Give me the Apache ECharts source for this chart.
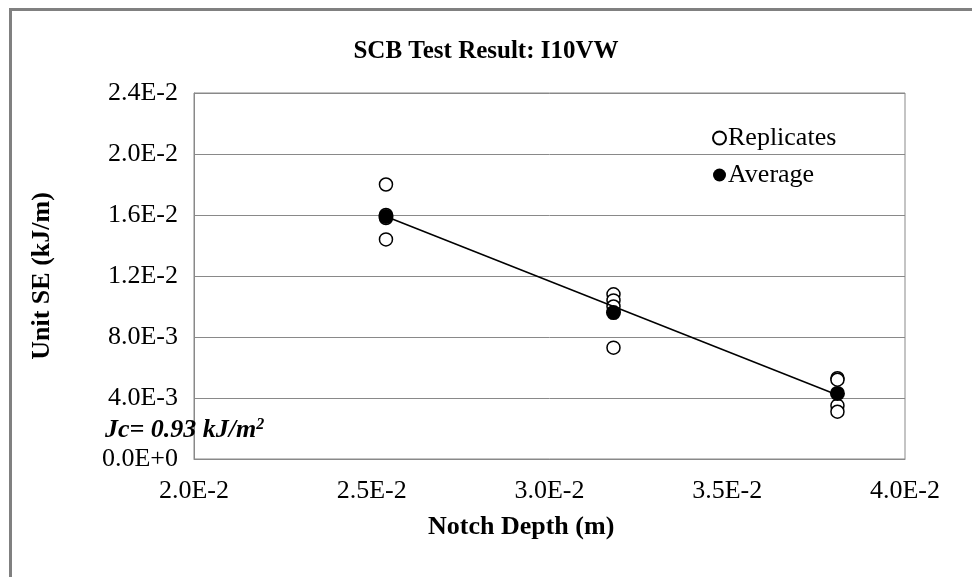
<!DOCTYPE html>
<html>
<head>
<meta charset="utf-8">
<script src="https://cdn.jsdelivr.net/npm/echarts@6/dist/echarts.min.js"></script>
<style>
html,body{margin:0;padding:0;background:#fff;}
#chart{width:972px;height:577px;}
</style>
</head>
<body>
<div id="chart"></div>
<script>
// Data
const notchDepths = [0.0254, 0.0318, 0.0381];
const replicates0254 = [0.0180, 0.0160, 0.0158, 0.0144];
const replicates0318 = [0.0108, 0.0104, 0.0100, 0.0073];
const replicates0381 = [0.0053, 0.0052, 0.0035, 0.0031];
const averages = [0.0159, 0.0096, 0.0043];
const trendX = [0.0254, 0.0381];
const trendY = [0.0159, 0.0042];
const yTicks = [0, 0.004, 0.008, 0.012, 0.016, 0.020, 0.024];
const xTicks = [0.020, 0.025, 0.030, 0.035, 0.040];

const FONT = 'Liberation Serif';
const GRIDC = '#898989';

const repData = [];
[replicates0254, replicates0318, replicates0381].forEach((arr, i) => {
  arr.forEach(v => repData.push([notchDepths[i], v]));
});
const avgData = notchDepths.map((x, i) => [x, averages[i]]);
const trendData = trendX.map((x, i) => [x, trendY[i]]);

function sci(v) {
  const n = Number(Number(v).toFixed(5));
  return n.toExponential(1).replace('e', 'E');
}

const chart = echarts.init(document.getElementById('chart'));
chart.setOption({
  animation: false,
  backgroundColor: '#fff',
  title: {
    text: 'SCB Test Result: I10VW',
    left: 'center',
    top: 34,
    textStyle: { fontFamily: FONT, fontWeight: 'bold', fontSize: 25, color: '#000' }
  },
  legend: {
    orient: 'vertical',
    left: 707,
    top: 120,
    itemWidth: 13,
    itemHeight: 13,
    itemGap: 11,
    data: ['Replicates', 'Average'],
    textStyle: { fontFamily: FONT, fontSize: 26, color: '#000', padding: [0, 0, 0, -3] }
  },
  grid: {
    left: 194, right: 67, top: 93, bottom: 118,
    show: true, borderColor: GRIDC, borderWidth: 1, backgroundColor: 'transparent'
  },
  xAxis: {
    type: 'value',
    min: xTicks[0], max: xTicks[xTicks.length - 1], interval: 0.005,
    axisLine: { show: true, lineStyle: { color: GRIDC } },
    axisTick: { show: false },
    splitLine: { show: false },
    axisLabel: { fontFamily: FONT, fontSize: 26, color: '#000', margin: 19, formatter: sci }
  },
  yAxis: {
    type: 'value',
    min: yTicks[0], max: yTicks[yTicks.length - 1], interval: 0.004,
    name: 'Unit SE (kJ/m)',
    nameLocation: 'middle',
    nameGap: 139,
    nameTextStyle: { fontFamily: FONT, fontWeight: 'bold', fontSize: 26, color: '#000' },
    axisLine: { show: true, lineStyle: { color: GRIDC } },
    axisTick: { show: false },
    splitLine: { show: true, lineStyle: { color: GRIDC, width: 1 } },
    axisLabel: { fontFamily: FONT, fontSize: 26, color: '#000', margin: 16, formatter: sci }
  },
  series: [
    {
      name: 'Replicates', type: 'scatter', data: repData,
      symbol: 'circle', symbolSize: 13, z: 2,
      itemStyle: { color: '#fff', borderColor: '#000', borderWidth: 1.5, opacity: 1 }
    },
    {
      name: 'Trend', type: 'line', data: trendData, showSymbol: false, symbol: 'none', z: 3,
      lineStyle: { color: '#000', width: 1.5 }, silent: true
    },
    {
      name: 'Average', type: 'scatter', data: avgData,
      symbol: 'circle', symbolSize: 15, z: 4,
      itemStyle: { color: '#000', borderColor: '#000', borderWidth: 0, opacity: 1 }
    }
  ],
  graphic: [
    {
      type: 'rect', left: 8, top: 7, z: 100, silent: true,
      shape: { x: 0, y: 0, width: 1000, height: 620 },
      style: { fill: 'none', stroke: '#808080', lineWidth: 3 }
    },
    {
      type: 'text', left: 428, top: 514, z: 100,
      style: {
        text: 'Notch Depth (m)',
        fontFamily: FONT, fontWeight: 'bold', fontSize: 26, fill: '#000'
      }
    },
    {
      type: 'text', left: 105, top: 417, z: 100,
      style: {
        text: '{a|Jc= 0.93 kJ/m}{s|2}',
        rich: {
          a: { fontFamily: FONT, fontWeight: 'bold', fontStyle: 'italic', fontSize: 26, color: '#000' },
          s: { fontFamily: FONT, fontWeight: 'bold', fontStyle: 'italic', fontSize: 16, color: '#000', verticalAlign: 'top', padding: [0, 0, 10, 0] }
        }
      }
    }
  ]
});
</script>
</body>
</html>
